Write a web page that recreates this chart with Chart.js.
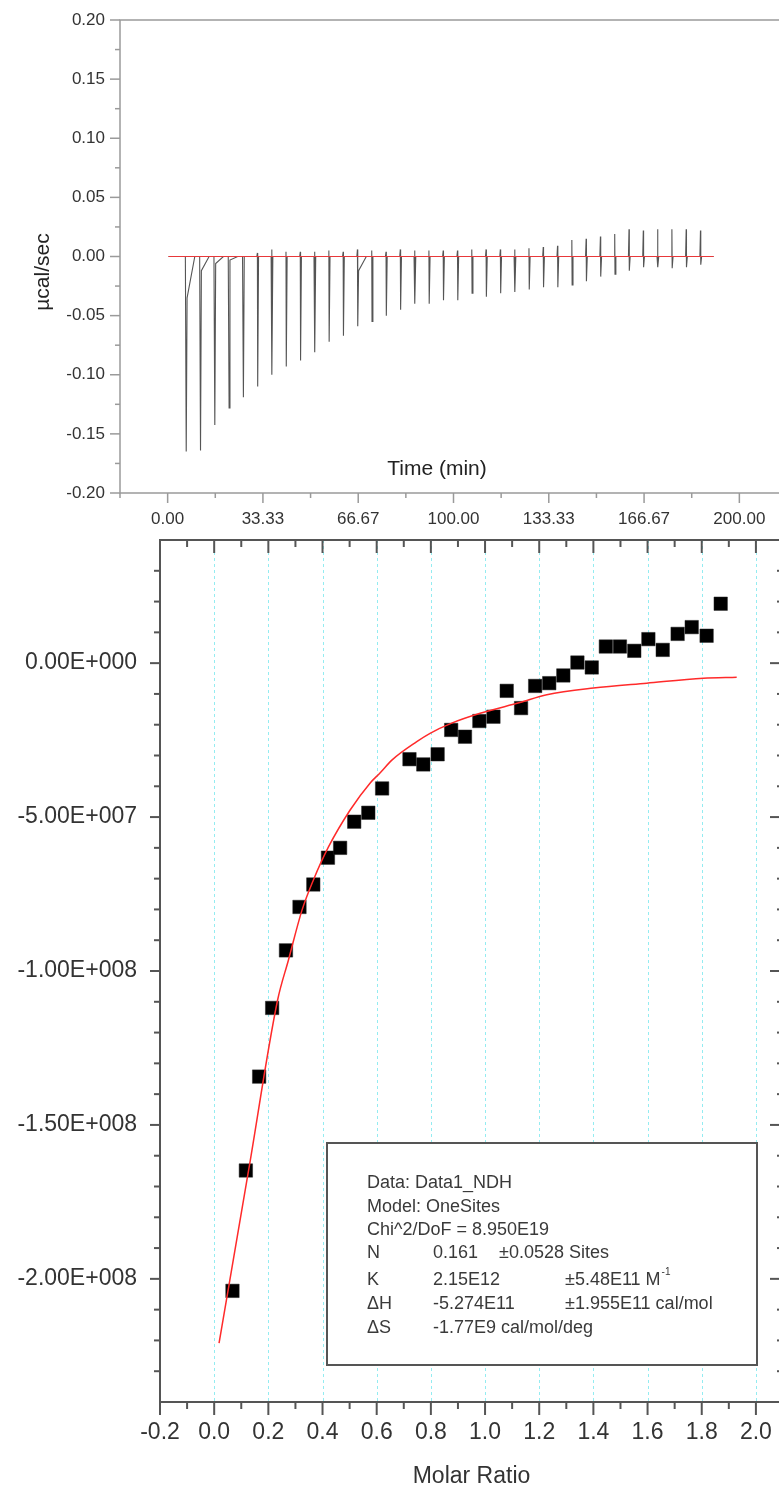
<!DOCTYPE html>
<html>
<head>
<meta charset="utf-8">
<script src="https://cdn.jsdelivr.net/npm/chart.js@4.4.1/dist/chart.umd.min.js"></script>
<style>
    html, body { margin: 0; padding: 0; background: #fff; overflow: hidden; width: 779px; height: 1490px; }
    #topChart { position: absolute; left: 0; top: 0; }
    #bottomChart { position: absolute; left: 0; top: 530px; }
</style>
</head>
<body>
<canvas id="topChart" width="800" height="540"></canvas>
<canvas id="bottomChart" width="800" height="960"></canvas>
<script>
// raw heat flow (top panel)
const injectionTimes = [6.5, 11.5, 16.5, 21.5, 26.5, 31.5, 36.5, 41.5, 46.5, 51.5, 56.5, 61.5, 66.5,
    71.5, 76.5, 81.5, 86.5, 91.5, 96.5, 101.5, 106.5, 111.5, 116.5, 121.5, 126.5, 131.5, 136.5,
    141.5, 146.5, 151.5, 156.5, 161.5, 166.5, 171.5, 176.5, 181.5, 186.5];
const peakDepth = [-0.165, -0.164, -0.1425, -0.128, -0.119, -0.110, -0.100, -0.093, -0.088, -0.081,
    -0.072, -0.067, -0.059, -0.055, -0.050, -0.045, -0.040, -0.040, -0.037, -0.037, -0.031, -0.034,
    -0.031, -0.030, -0.028, -0.026, -0.026, -0.024, -0.021, -0.017, -0.015, -0.012, -0.009, -0.009,
    -0.010, -0.009, -0.007];
const peakUp = [0, 0, 0, 0, 0, 0.003, 0.006, 0.004, 0.004, 0.004, 0.005, 0.004, 0.006, 0.005, 0.004,
    0.006, 0.005, 0.005, 0.005, 0.005, 0.006, 0.006, 0.006, 0.006, 0.007, 0.008, 0.009, 0.014, 0.015,
    0.017, 0.019, 0.023, 0.022, 0.023, 0.023, 0.023, 0.022];
const peakTail = [-0.035, -0.012, -0.006, -0.003, 0, 0, 0, 0, 0, 0, 0, 0, -0.012, 0, 0, 0, 0, 0, 0,
    0, 0, 0, 0, 0, 0, 0, 0, 0, 0, 0, 0, 0, 0, 0, 0, 0, 0];
const baselineTimes = [0.3, 191];

const timeTicks = [0, 33.333, 66.667, 100, 133.333, 166.667, 200];
const timeTickLabels = ['0.00', '33.33', '66.67', '100.00', '133.33', '166.67', '200.00'];
const timeMinor = [-16.667, 16.667, 50, 83.333, 116.667, 150, 183.333];
const powerTicks = [-0.2, -0.15, -0.1, -0.05, 0, 0.05, 0.1, 0.15, 0.2];
const powerTickLabels = ['-0.20', '-0.15', '-0.10', '-0.05', '0.00', '0.05', '0.10', '0.15', '0.20'];
const powerMinor = [-0.175, -0.125, -0.075, -0.025, 0.025, 0.075, 0.125, 0.175];

// integrated heats (bottom panel)
const molarRatio = [0.0675, 0.117, 0.166, 0.214, 0.265, 0.315, 0.366, 0.420, 0.465, 0.517, 0.569, 0.620,
    0.721, 0.772, 0.825, 0.875, 0.926, 0.979, 1.031, 1.080, 1.133, 1.185, 1.237, 1.289, 1.341, 1.394,
    1.446, 1.498, 1.551, 1.603, 1.656, 1.711, 1.763, 1.818, 1.870];
const heat = [-2.039e8, -1.648e8, -1.343e8, -1.120e8, -9.33e7, -7.92e7, -7.19e7, -6.32e7, -6.00e7,
    -5.15e7, -4.86e7, -4.07e7, -3.12e7, -3.29e7, -2.96e7, -2.17e7, -2.39e7, -1.88e7, -1.74e7, -9.0e6,
    -1.46e7, -7.4e6, -6.5e6, -4.0e6, 2e5, -1.4e6, 5.4e6, 5.4e6, 4.0e6, 7.8e6, 4.3e6, 9.5e6, 1.17e7,
    8.9e6, 1.93e7];
const fitRatio = [0.018, 0.127, 0.234, 0.274, 0.324, 0.366, 0.422, 0.502, 0.576, 0.613, 0.656, 0.748,
    0.797, 0.877, 0.982, 1.129, 1.228, 1.400, 1.597, 1.806, 1.929];
const fitHeat = [-2.209e8, -1.648e8, -1.095e8, -9.65e7, -8.03e7, -7.05e7, -5.97e7, -4.77e7, -3.89e7,
    -3.56e7, -3.15e7, -2.55e7, -2.28e7, -1.95e7, -1.63e7, -1.28e7, -1.03e7, -8.1e6, -6.5e6, -4.9e6,
    -4.55e6];

const ratioTicks = [-0.2, 0, 0.2, 0.4, 0.6, 0.8, 1.0, 1.2, 1.4, 1.6, 1.8, 2.0];
const ratioTickLabels = ['-0.2', '0.0', '0.2', '0.4', '0.6', '0.8', '1.0', '1.2', '1.4', '1.6', '1.8', '2.0'];
const ratioMinor = [-0.1, 0.1, 0.3, 0.5, 0.7, 0.9, 1.1, 1.3, 1.5, 1.7, 1.9];
const heatTicks = [-2e8, -1.5e8, -1e8, -5e7, 0];
const heatTickLabels = ['-2.00E+008', '-1.50E+008', '-1.00E+008', '-5.00E+007', '0.00E+000'];
const heatMinor = [-2.3e8, -2.2e8, -2.1e8, -1.9e8, -1.8e8, -1.7e8, -1.6e8, -1.4e8, -1.3e8, -1.2e8,
    -1.1e8, -9e7, -8e7, -7e7, -6e7, -4e7, -3e7, -2e7, -1e7, 1e7, 2e7, 3e7];

const fitLines = [
    { y: 653, cols: [[367, 'Data: Data1_NDH']] },
    { y: 677, cols: [[367, 'Model: OneSites']] },
    { y: 700, cols: [[367, 'Chi^2/DoF = 8.950E19']] },
    { y: 723, cols: [[367, 'N'], [433, '0.161'], [499, '±0.0528 Sites']] },
    { y: 750, cols: [[367, 'K'], [433, '2.15E12'], [565, '±5.48E11 M']], sup: '-1' },
    { y: 774, cols: [[367, '\u0394H'], [433, '-5.274E11'], [565, '±1.955E11 cal/mol']] },
    { y: 798, cols: [[367, '\u0394S'], [433, '-1.77E9 cal/mol/deg']] }
];

const FONT = '"Liberation Sans", Arial, sans-serif';

// fixes the axis box size and stops tick labels from pushing the plot area around
function fixBox(size) {
    return function (s) {
        if (s.isHorizontal()) s.height = size; else s.width = size;
        s.paddingTop = 0; s.paddingBottom = 0; s.paddingLeft = 0; s.paddingRight = 0;
    };
}

// frame, tick marks and optional grid lines drawn through the chart's scales
function axisDecor(cfg) {
    function ticks(ctx, chart, side, values, len) {
        const a = chart.chartArea;
        const sc = (side === 'left' || side === 'right') ? chart.scales.y : chart.scales.x;
        values.forEach(v => {
            const p = sc.getPixelForValue(v);
            ctx.beginPath();
            if (side === 'left') { ctx.moveTo(a.left, p); ctx.lineTo(a.left - len, p); }
            if (side === 'right') { ctx.moveTo(a.right, p); ctx.lineTo(a.right + len, p); }
            if (side === 'bottom') { ctx.moveTo(p, a.bottom); ctx.lineTo(p, a.bottom + len); }
            if (side === 'top') { ctx.moveTo(p, a.top); ctx.lineTo(p, a.top - len); }
            ctx.stroke();
        });
    }
    return {
        id: 'axisDecor',
        beforeDatasetsDraw(chart) {
            if (!cfg.grid) return;
            const { ctx, chartArea: a } = chart;
            ctx.save();
            ctx.strokeStyle = cfg.grid.color;
            ctx.lineWidth = 1;
            ctx.setLineDash(cfg.grid.dash);
            cfg.grid.values.forEach(v => {
                const px = Math.round(chart.scales.x.getPixelForValue(v)) + 0.5;
                ctx.beginPath();
                ctx.moveTo(px, a.top);
                ctx.lineTo(px, a.bottom);
                ctx.stroke();
            });
            ctx.restore();
        },
        afterDraw(chart) {
            const { ctx, chartArea: a } = chart;
            ctx.save();
            ctx.strokeStyle = cfg.color;
            ctx.lineWidth = cfg.width;
            ctx.strokeRect(a.left, a.top, a.right - a.left, a.bottom - a.top);
            cfg.sides.forEach(s => {
                ticks(ctx, chart, s.side, s.major, s.majorLen);
                ticks(ctx, chart, s.side, s.minor, s.minorLen);
            });
            ctx.restore();
            if (cfg.extra) cfg.extra(chart);
        }
    };
}

// ---------- top panel ----------
const tracePoints = [{ x: baselineTimes[0], y: 0 }];
injectionTimes.forEach((t, i) => {
    tracePoints.push({ x: t - 0.3, y: 0 });
    if (peakUp[i]) tracePoints.push({ x: t - 0.1, y: peakUp[i] });
    tracePoints.push({ x: t, y: peakDepth[i] });
    tracePoints.push({ x: t + 0.3, y: peakTail[i] });
    tracePoints.push({ x: t + 3, y: 0 });
});
tracePoints.push({ x: baselineTimes[1], y: 0 });

new Chart(document.getElementById('topChart'), {
    type: 'scatter',
    data: {
        datasets: [
            {
                label: 'baseline',
                data: baselineTimes.map(t => ({ x: t, y: 0 })),
                showLine: true,
                borderColor: '#e8383a',
                borderWidth: 1,
                pointRadius: 0,
                order: 0
            },
            {
                label: 'heat flow',
                data: tracePoints,
                showLine: true,
                borderColor: '#555',
                borderWidth: 1.1,
                pointRadius: 0,
                order: 1
            }
        ]
    },
    options: {
        responsive: false,
        animation: false,
        layout: { padding: { left: 0, top: 20, right: 13, bottom: 0 } },
        plugins: { legend: { display: false }, tooltip: { enabled: false } },
        scales: {
            x: {
                type: 'linear', min: -16.667, max: 216.667,
                grid: { display: false, drawTicks: false }, border: { display: false },
                afterBuildTicks: s => { s.ticks = timeTicks.map(v => ({ value: v })); },
                afterFit: fixBox(47),
                ticks: {
                    padding: 16, color: '#333', autoSkip: false, maxRotation: 0,
                    font: { size: 17, family: FONT },
                    callback: (v, i) => timeTickLabels[i]
                }
            },
            y: {
                type: 'linear', min: -0.2, max: 0.2,
                grid: { display: false, drawTicks: false }, border: { display: false },
                afterBuildTicks: s => { s.ticks = powerTicks.map(v => ({ value: v })); },
                afterFit: fixBox(120),
                ticks: {
                    padding: 15, color: '#333', autoSkip: false,
                    font: { size: 17, family: FONT },
                    callback: (v, i) => powerTickLabels[i]
                }
            }
        }
    },
    plugins: [axisDecor({
        color: '#9a9a9a', width: 1.5,
        sides: [
            { side: 'left', major: powerTicks, minor: powerMinor, majorLen: 10, minorLen: 5 },
            { side: 'bottom', major: timeTicks, minor: timeMinor, majorLen: 10, minorLen: 5 }
        ],
        extra: chart => {
            const ctx = chart.ctx;
            ctx.save();
            ctx.fillStyle = '#222';
            ctx.font = '21px ' + FONT;
            ctx.textAlign = 'center';
            ctx.textBaseline = 'middle';
            ctx.fillText('Time (min)', 437, 469);
            ctx.translate(43, 272);
            ctx.rotate(-Math.PI / 2);
            ctx.fillText('µcal/sec', 0, 0);
            ctx.restore();
        }
    })]
});

// ---------- bottom panel ----------
new Chart(document.getElementById('bottomChart'), {
    type: 'scatter',
    data: {
        datasets: [
            {
                label: 'fit',
                data: fitRatio.map((x, i) => ({ x: x, y: fitHeat[i] })),
                showLine: true,
                borderColor: '#ff2a2a',
                borderWidth: 1.5,
                pointRadius: 0,
                cubicInterpolationMode: 'monotone',
                order: 0
            },
            {
                label: 'NDH',
                data: molarRatio.map((x, i) => ({ x: x, y: heat[i] })),
                pointStyle: 'rect',
                pointRadius: 9.5,
                backgroundColor: '#000',
                borderColor: '#222',
                borderWidth: 0.5,
                order: 1
            }
        ]
    },
    options: {
        responsive: false,
        animation: false,
        layout: { padding: { left: 0, top: 10, right: 17, bottom: 0 } },
        plugins: { legend: { display: false }, tooltip: { enabled: false } },
        scales: {
            x: {
                type: 'linear', min: -0.2, max: 2.1,
                grid: { display: false, drawTicks: false }, border: { display: false },
                afterBuildTicks: s => { s.ticks = ratioTicks.map(v => ({ value: v })); },
                afterFit: fixBox(88),
                ticks: {
                    padding: 17, color: '#333', autoSkip: false, maxRotation: 0,
                    font: { size: 23, family: FONT },
                    callback: (v, i) => ratioTickLabels[i]
                },
                title: {
                    display: true, text: 'Molar Ratio', color: '#333',
                    font: { size: 23, family: FONT }, padding: { top: 0, bottom: 0 }
                }
            },
            y: {
                type: 'linear', min: -2.4e8, max: 4e7,
                grid: { display: false, drawTicks: false }, border: { display: false },
                afterBuildTicks: s => { s.ticks = heatTicks.map(v => ({ value: v })); },
                afterFit: fixBox(160),
                ticks: {
                    padding: 23, color: '#333', autoSkip: false,
                    font: { size: 23, family: FONT },
                    callback: (v, i) => heatTickLabels[i]
                }
            }
        }
    },
    plugins: [axisDecor({
        color: '#555', width: 2,
        grid: { values: ratioTicks.slice(1), color: 'rgba(60, 220, 230, 0.55)', dash: [3, 3] },
        sides: [
            { side: 'left', major: heatTicks, minor: heatMinor, majorLen: 10, minorLen: 6 },
            { side: 'right', major: heatTicks, minor: heatMinor, majorLen: -13, minorLen: -6 },
            { side: 'bottom', major: ratioTicks, minor: ratioMinor, majorLen: 13, minorLen: 7 },
            { side: 'top', major: ratioTicks, minor: ratioMinor, majorLen: -13, minorLen: -7 }
        ],
        extra: chart => {
            const ctx = chart.ctx;
            ctx.save();
            ctx.fillStyle = '#fff';
            ctx.fillRect(327, 613, 430, 222);
            ctx.strokeStyle = '#555';
            ctx.lineWidth = 2;
            ctx.strokeRect(327, 613, 430, 222);
            ctx.fillStyle = '#3a3a3a';
            ctx.font = '18px ' + FONT;
            ctx.textBaseline = 'middle';
            fitLines.forEach(line => {
                line.cols.forEach(c => ctx.fillText(c[1], c[0], line.y));
                if (line.sup) {
                    const last = line.cols[line.cols.length - 1];
                    const w = ctx.measureText(last[1]).width;
                    ctx.save();
                    ctx.font = '10px ' + FONT;
                    ctx.fillText(line.sup, last[0] + w + 1, line.y - 8);
                    ctx.restore();
                }
            });
            ctx.restore();
        }
    })]
});
</script>
</body>
</html>
